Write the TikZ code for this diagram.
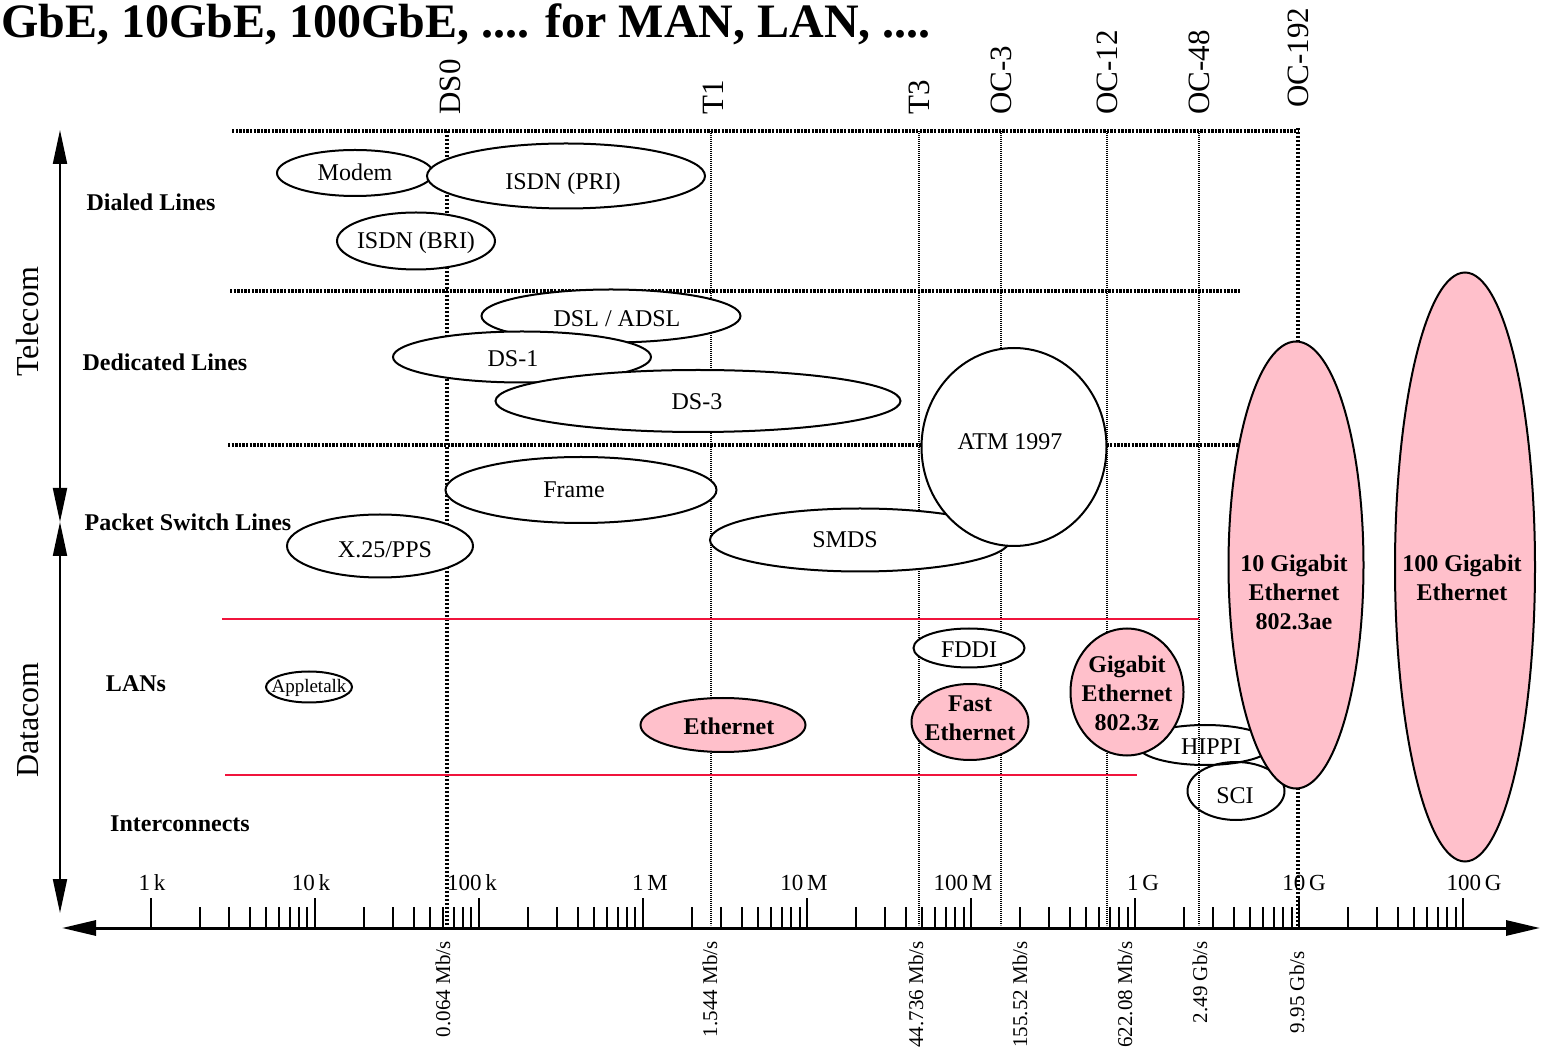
\documentclass[tikz,border=0pt]{standalone}
\usepackage{fontspec}
\setmainfont{Liberation Serif}
\usetikzlibrary{shapes.geometric, arrows.meta}
\definecolor{gigapink}{RGB}{255,192,203}
\definecolor{lanred}{RGB}{240,20,60}

\begin{document}
\begin{tikzpicture}[x=0.5pt, y=-0.5pt,
    oval/.style={ellipse, draw, line width=1pt, fill=white, inner sep=0pt},
    pinkoval/.style={oval, fill=gigapink},
    ovaltext/.style={inner sep=0pt, align=center, font=\fontsize{12}{14.5}\selectfont},
    boldtext/.style={ovaltext, font=\fontsize{12}{14.5}\selectfont\bfseries},
    rowlabel/.style={inner sep=0pt, font=\fontsize{12}{14}\selectfont\bfseries},
    sidelabel/.style={inner sep=0pt, rotate=90, font=\fontsize{16}{18}\selectfont},
    ratelabel/.style={inner sep=0pt, rotate=90, anchor=west, font=\fontsize{15.5}{18}\selectfont},
    speedlabel/.style={inner sep=0pt, rotate=90, anchor=east, font=\fontsize{10.5}{12}\selectfont},
    ticklabel/.style={inner sep=0pt, font=\fontsize{11.5}{13}\selectfont},
    griddots/.style={line width=1.75pt, dash pattern=on 1.2pt off 0.6pt},
    heavydots/.style={line width=1.75pt, dash pattern=on 1.2pt off 0.8pt},
    thindots/.style={line width=1pt, dash pattern=on 0.6pt off 0.4pt},
    lanline/.style={lanred, line width=1.25pt},
    bigarrow/.style={line width=1pt, {Triangle[length=17pt, width=7pt]}-{Triangle[length=17pt, width=7pt]}}]

    \path[use as bounding box, fill=white] (0,0) rectangle (1543,1047);

    % title
    \node[anchor=base west, inner sep=0pt, font=\fontsize{24}{28}\selectfont\bfseries] (title) at (1,38)
        {GbE, 10GbE, 100GbE, .... for MAN, LAN, ....};

    % grid of rows and line rates
    \draw[griddots] (232,131) -- (1298,131);
    \draw[griddots] (230,291) -- (1240,291);
    \draw[griddots] (228,445) -- (1240,445);
    \draw[heavydots] (447,131) -- (447,928);
    \foreach \vx in {711,919,1001,1107,1199}
        \draw[thindots] (\vx,131) -- (\vx,925);
    \draw[line width=2pt, dash pattern=on 1pt off 1pt] (1298,128) -- (1298,928);
    \draw[lanline] (222,619) -- (1199,619);
    \draw[lanline] (225,775) -- (1137,775);

    % rate names on top
    \foreach \vx/\vy/\vt [count=\i] in {450/115/DS0, 713/115/T1, 919/115/T3, 1001/115/OC-3,
        1107/115/OC-12, 1199/115/OC-48, 1298/108/OC-192}
        \node[ratelabel] (rate\i) at (\vx,\vy) {\vt};

    % side arrows
    \coordinate (tctop) at (60,130);
    \coordinate (tcbot) at (60,522);
    \coordinate (dctop) at (60,522);
    \coordinate (dcbot) at (60,913);
    \draw[bigarrow] (tctop) -- (tcbot);
    \draw[bigarrow] (dctop) -- (dcbot);
    \node[sidelabel] (telecom) at (28,322) {Telecom};
    \node[sidelabel] (datacom) at (28,720) {Datacom};

    % row names
    \node[rowlabel] (dialed) at (151,202) {Dialed Lines};
    \node[rowlabel] (dedicated) at (165,362) {Dedicated Lines};
    \node[rowlabel] (packet) at (188,522) {Packet Switch Lines};
    \node[rowlabel] (lans) at (136,684) {LANs};
    \node[rowlabel] (inter) at (180,824) {Interconnects};

    % telecom services
    \node[oval, minimum width=78pt, minimum height=23pt] (modem) at (355,173) {};
    \node[ovaltext] (modemtxt) at (355,172) {Modem};
    \node[oval, minimum width=139pt, minimum height=32.5pt] (isdnpri) at (566,176) {};
    \node[ovaltext] (isdnpritxt) at (563,184) {ISDN (PRI)};
    \node[oval, minimum width=79pt, minimum height=28.5pt] (isdnbri) at (416,241) {};
    \node[ovaltext] (isdnbritxt) at (416,243) {ISDN (BRI)};
    \node[oval, minimum width=129.5pt, minimum height=26.5pt] (dsl) at (611,316) {};
    \node[ovaltext] (dsltxt) at (617,319) {DSL / ADSL};
    \node[oval, minimum width=129pt, minimum height=25.5pt] (dsone) at (522,357) {};
    \node[ovaltext] (dsonetxt) at (513,359) {DS-1};
    \node[oval, minimum width=202.5pt, minimum height=31pt] (dsthree) at (698,401) {};
    \node[ovaltext] (dsthreetxt) at (697,402) {DS-3};
    \node[oval, minimum width=135.5pt, minimum height=33pt] (frame) at (581,490) {};
    \node[ovaltext] (frametxt) at (574,490) {Frame};
    \node[oval, minimum width=93pt, minimum height=31.5pt] (xpps) at (380,546) {};
    \node[ovaltext] (xppstxt) at (385,550) {X.25/PPS};
    \node[oval, minimum width=150pt, minimum height=31.5pt] (smds) at (860,540) {};
    \node[ovaltext] (smdstxt) at (845,540) {SMDS};
    \node[oval, minimum width=92.5pt, minimum height=99pt] (atm) at (1014,447) {};
    \node[ovaltext] (atmtxt) at (1010,442) {ATM 1997};

    % LANs and interconnects
    \node[oval, minimum width=55.5pt, minimum height=19.5pt] (fddi) at (969,648) {};
    \node[ovaltext] (fdditxt) at (969,650) {FDDI};
    \node[oval, minimum width=43pt, minimum height=15.5pt] (apple) at (309,687) {};
    \node[ovaltext, font=\fontsize{9.5}{11}\selectfont] (appletxt) at (309,688) {Appletalk};
    \node[pinkoval, minimum width=82.5pt, minimum height=27pt] (ether) at (723,725) {};
    \node[boldtext] (ethertxt) at (729,726) {Ethernet};
    \node[pinkoval, minimum width=58.5pt, minimum height=38pt] (fast) at (970,722) {};
    \node[boldtext] (fasttxt) at (970,718) {Fast\\Ethernet};
    \node[oval, fill=none, minimum width=67.5pt, minimum height=20pt] (hippi) at (1205,745) {};
    \node[ovaltext] (hippitxt) at (1211,747) {HIPPI};
    \node[oval, fill=none, minimum width=48.5pt, minimum height=29pt] (sci) at (1236,791) {};
    \node[ovaltext] (scitxt) at (1235,796) {SCI};
    \node[pinkoval, minimum width=56.5pt, minimum height=63.5pt] (gige) at (1127,692) {};
    \node[boldtext] (gigetxt) at (1127,693) {Gigabit\\Ethernet\\802.3z};
    \node[pinkoval, minimum width=67.5pt, minimum height=223.5pt] (tengig) at (1296,565) {};
    \node[boldtext] (tengigtxt) at (1294,592) {10 Gigabit\\Ethernet\\802.3ae};
    \node[pinkoval, minimum width=70pt, minimum height=294.5pt] (hundgig) at (1465,567) {};
    \node[boldtext] (hundgigtxt) at (1462,578) {100 Gigabit\\Ethernet};

    % log axis of bit rates
    \coordinate (axleft) at (62,928);
    \coordinate (axright) at (1540,928);
    \draw[line width=1.5pt, {Triangle[length=17pt, width=7.5pt]}-{Triangle[length=17pt, width=7.5pt]}] (axleft) -- (axright);
    \foreach \d in {0,...,7}
        \foreach \m in {2,...,9}
            \draw[line width=1pt] ({151+164*(\d+log10(\m))},928) -- ({151+164*(\d+log10(\m))},907);
    \foreach \d in {0,...,8}
        \draw[line width=1pt] ({151+164*\d},928) -- ({151+164*\d},898);
    \foreach \lx/\lt [count=\i] in {152/1\,k, 311/10\,k, 472/100\,k, 650/1\,M, 804/10\,M,
        963/100\,M, 1143/1\,G, 1304/10\,G, 1474/100\,G}
        \node[ticklabel] (tick\i) at (\lx,883) {\lt};

    % exact rates under the axis
    \foreach \sx/\sy/\st [count=\i] in {443/941/{0.064 Mb/s}, 710/941/{1.544 Mb/s}, 916/941/{44.736 Mb/s},
        1020/941/{155.52 Mb/s}, 1125/941/{622.08 Mb/s}, 1200/941/{2.49 Gb/s}, 1297/951/{9.95 Gb/s}}
        \node[speedlabel] (speed\i) at (\sx,\sy) {\st};

\end{tikzpicture}
\end{document}
